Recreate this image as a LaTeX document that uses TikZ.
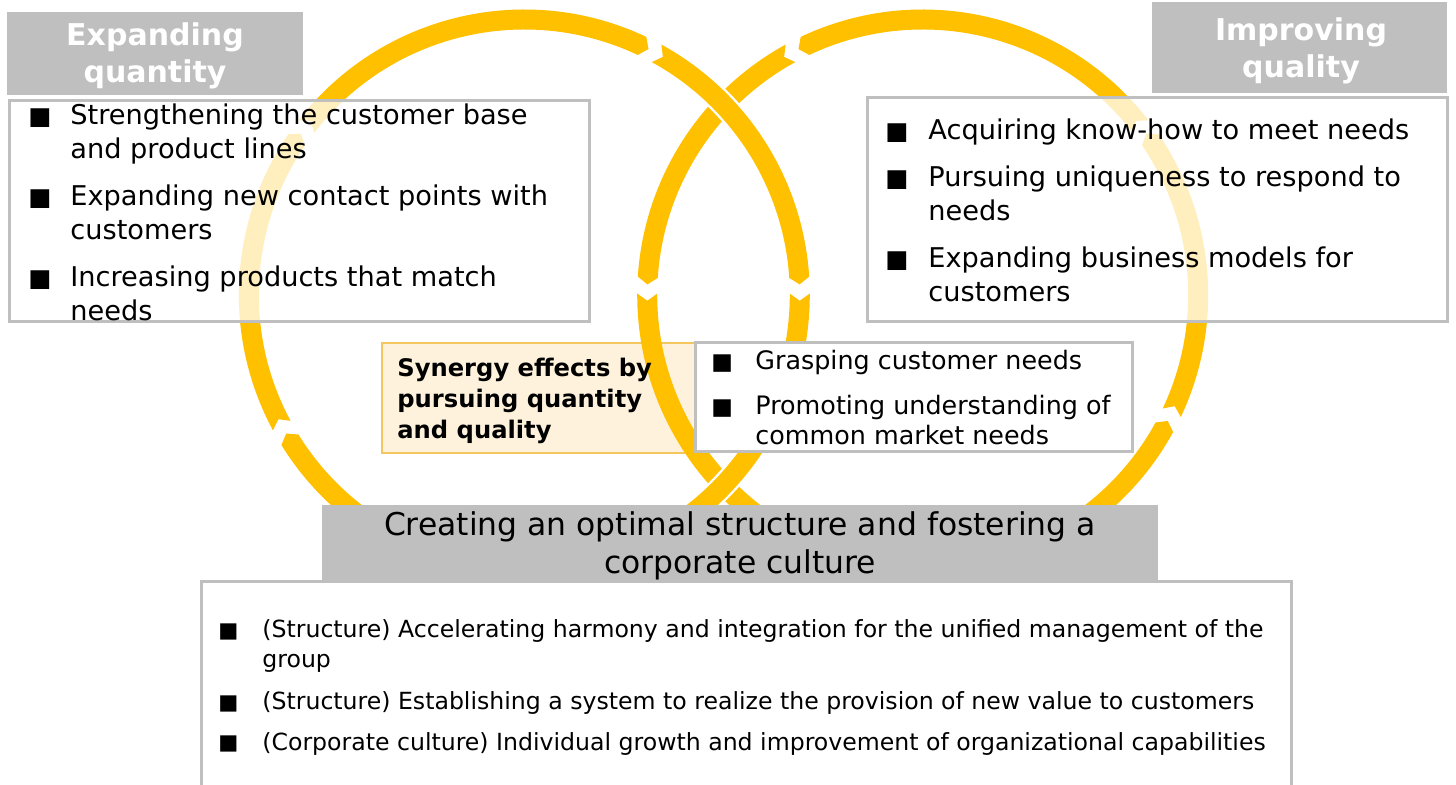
\documentclass[tikz,border=0pt]{standalone}
\usepackage{fontspec}
\setmainfont{DejaVu Sans}
\definecolor{ringc}{HTML}{FFC000}
\definecolor{boxgray}{HTML}{BFBFBF}
\definecolor{synfill}{HTML}{FEF2DC}
\definecolor{synline}{HTML}{F4C660}
\newcommand{\ringseg}[5]{%
  \pgfmathsetmacro\rsdd{(#4>#3)?1.5:-1.5}%
  \pgfmathsetmacro\rsa{#3+\rsdd}%
  \pgfmathsetmacro\rsb{#4+\rsdd}%
  \fill[ringc,shift={(#1,#2)},#5] (#3:285.5) arc[start angle=#3,end angle=#4,radius=285.5]
    -- (\rsb:275.5) -- (#4:265.5) arc[start angle=#4,end angle=#3,radius=265.5]
    -- (\rsa:275.5) -- cycle;}
\newcommand{\bul}[1]{\makebox[#1][l]{\scalebox{0.9}{■}}}
\tikzset{
  txt/.style={anchor=base west, inner sep=0pt, text=black},
  ctxt/.style={anchor=base, inner sep=0pt},
  wbox/.style={draw=boxgray, line width=1.5pt, fill=white, fill opacity=0.75},
  cbox/.style={draw=boxgray, line width=1.5pt, fill=white},
  synbox/.style={draw=synline, line width=1pt, fill=synfill},
  graybox/.style={fill=boxgray},
  toplayer/.style={preaction={draw=white, line width=2.4pt}}
}
\begin{document}
\begin{tikzpicture}[x=0.5pt,y=0.5pt]
\useasboundingbox (0,0) rectangle (1456,-785);
\fill[white] (0,0) rectangle (1456,-785);
% synergy box (behind the rings)
\draw[synbox] (382,-343) rectangle (698,-453);
% right ring (counter-clockwise)
\ringseg{922.7}{-295}{37.7}{115.3}{}
\ringseg{922.7}{-295}{118.7}{176.3}{}
\ringseg{922.7}{-295}{179.7}{252.3}{}
\ringseg{922.7}{-295}{255.7}{331.3}{}
\ringseg{922.7}{-295}{334.7}{394.3}{}
% left ring (clockwise, on top)
\ringseg{524.3}{-295}{142.3}{64.7}{toplayer}
\ringseg{524.3}{-295}{61.3}{3.7}{toplayer}
\ringseg{524.3}{-295}{0.3}{-72.3}{toplayer}
\ringseg{524.3}{-295}{-75.7}{-148.3}{toplayer}
\ringseg{524.3}{-295}{-151.7}{-214.3}{toplayer}
% boxes
\draw[wbox] (9,-101) rectangle (589,-322);
\draw[wbox] (867,-98) rectangle (1447,-322);
\draw[cbox] (695,-343) rectangle (1132,-452);
\draw[boxgray, line width=1.5pt] (201.5,-785) -- (201.5,-581.5) -- (1291.5,-581.5) -- (1291.5,-785);
\fill[graybox] (7,-12) rectangle (303,-95);
\fill[graybox] (1152,-2) rectangle (1447,-93);
\fill[graybox] (322,-505) rectangle (1158,-580);
% titles
\node[ctxt, text=white] (tq) at (155,-46) {\fontsize{15}{18.5}\selectfont\bfseries
  \begin{tabular}[t]{@{}c@{}}Expanding\\quantity\end{tabular}};
\node[ctxt, text=white] (tl) at (1301,-41) {\fontsize{15}{18.5}\selectfont\bfseries
  \begin{tabular}[t]{@{}c@{}}Improving\\quality\end{tabular}};
% left list
\node[txt] (ll) at (28,-125) {\fontsize{13.6}{17}\selectfont
  \begin{tabular}[t]{@{}l@{}l@{}}
  \bul{21pt} & Strengthening the customer base\\
   & and product lines\\[6.5pt]
  \bul{21pt} & Expanding new contact points with\\
   & customers\\[6.5pt]
  \bul{21pt} & Increasing products that match\\
   & needs
  \end{tabular}};
% right list
\node[txt] (rl) at (885,-140) {\fontsize{13.6}{17}\selectfont
  \begin{tabular}[t]{@{}l@{}l@{}}
  \bul{21.5pt} & Acquiring know-how to meet needs\\[6.5pt]
  \bul{21.5pt} & Pursuing uniqueness to respond to\\
   & needs\\[6.5pt]
  \bul{21.5pt} & Expanding business models for\\
   & customers
  \end{tabular}};
% synergy text
\node[txt] (sy) at (397,-377) {\fontsize{12.1}{15.5}\selectfont\bfseries
  \begin{tabular}[t]{@{}l@{}}Synergy effects by\\pursuing quantity\\and quality\end{tabular}};
% center list
\node[txt] (cl) at (711,-370) {\fontsize{12.7}{14.75}\selectfont
  \begin{tabular}[t]{@{}l@{}l@{}}
  \bul{22pt} & Grasping customer needs\\[7.75pt]
  \bul{22pt} & Promoting understanding of\\
   & common market needs
  \end{tabular}};
% bottom title
\node[ctxt, text=black] (bt) at (740,-536) {\fontsize{15.7}{19}\selectfont
  \begin{tabular}[t]{@{}c@{}}Creating an optimal structure and fostering a\\corporate culture\end{tabular}};
% bottom list
\node[txt] (bl) at (218,-638) {\fontsize{11.8}{14.5}\selectfont
  \begin{tabular}[t]{@{}l@{}l@{}}
  \bul{22pt} & (Structure) Accelerating harmony and integration for the unified management of the\\
   & group\\[7pt]
  \bul{22pt} & (Structure) Establishing a system to realize the provision of new value to customers\\[5.5pt]
  \bul{22pt} & (Corporate culture) Individual growth and improvement of organizational capabilities
  \end{tabular}};
\end{tikzpicture}
\end{document}
